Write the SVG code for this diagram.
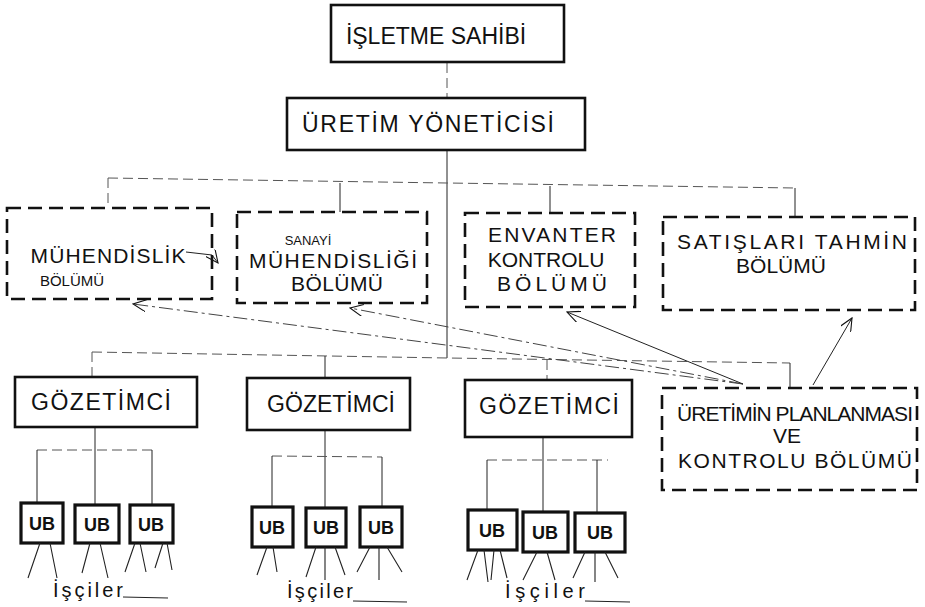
<svg xmlns="http://www.w3.org/2000/svg" width="925" height="607" viewBox="0 0 925 607">
<defs>
<style>
.solid{fill:none;stroke:#111;stroke-width:2.6}
.dash{fill:none;stroke:#111;stroke-width:2.6;stroke-dasharray:14 7}
.ub{fill:none;stroke:#111;stroke-width:3.2}
.c{fill:none;stroke:#222;stroke-width:1}
.cf{fill:none;stroke:#555;stroke-width:1;stroke-dasharray:10 5}
.cd{fill:none;stroke:#444;stroke-width:1;stroke-dasharray:14 4 3 4}
.leg{fill:none;stroke:#222;stroke-width:1.1}
text{font-family:"Liberation Sans","DejaVu Sans",sans-serif;fill:#111;text-anchor:middle}
.t1{font-size:23px}
.t2{font-size:21px}
.t3{font-size:18px;font-weight:bold}
.t4{font-size:20px}
</style>
<marker id="open" markerWidth="14" markerHeight="12" refX="13" refY="6" orient="auto" markerUnits="userSpaceOnUse">
<path d="M0,0 L13,6 L0,12" fill="none" stroke="#111" stroke-width="1.1"/>
</marker>
</defs>
<rect width="925" height="607" fill="#fff"/>

<g id="connectors">
<line class="cf" x1="447" y1="63" x2="447" y2="98"/>
<line class="c" x1="447" y1="151" x2="447" y2="358"/>
<polyline class="cf" points="108,178 447,183 795,188"/>
<line class="cf" x1="108" y1="178" x2="108" y2="207"/>
<line class="c" x1="340" y1="183" x2="340" y2="212"/>
<line class="c" x1="550" y1="186" x2="550" y2="213"/>
<line class="c" x1="795" y1="188" x2="795" y2="217"/>
<polyline class="cf" points="92,352 447,358 790,363"/>
<line class="cf" x1="92" y1="352" x2="92" y2="377"/>
<line class="c" x1="325" y1="356" x2="325" y2="378"/>
<line class="cf" x1="547" y1="360" x2="547" y2="380"/>
<line class="c" x1="790" y1="363" x2="790" y2="388"/>
<path class="c" d="M186,252 L212,255 L218,263" marker-end="url(#open)"/>
<line class="cd" x1="743" y1="384" x2="133" y2="304" marker-end="url(#open)"/>
<line class="cd" x1="743" y1="384" x2="350" y2="308" marker-end="url(#open)"/>
<line class="c" x1="743" y1="384" x2="567" y2="312" marker-end="url(#open)"/>
<line class="c" x1="813" y1="385" x2="852" y2="318" marker-end="url(#open)"/>
<line class="c" x1="95" y1="427" x2="95" y2="505"/>
<line class="cf" x1="37" y1="450" x2="152" y2="450"/>
<line class="c" x1="37" y1="450" x2="37" y2="503"/>
<line class="c" x1="152" y1="450" x2="152" y2="505"/>
<line class="c" x1="325" y1="430" x2="325" y2="508"/>
<line class="cf" x1="272" y1="456" x2="382" y2="457"/>
<line class="c" x1="272" y1="456" x2="272" y2="507"/>
<line class="c" x1="382" y1="457" x2="382" y2="507"/>
<line class="c" x1="543" y1="437" x2="543" y2="512"/>
<line class="cf" x1="487" y1="460" x2="608" y2="460"/>
<line class="c" x1="487" y1="460" x2="487" y2="510"/>
<line class="c" x1="597" y1="460" x2="597" y2="513"/>
</g>

<g id="isletme-sahibi">
<rect class="solid" x="331" y="5" width="233" height="57"/>
<text class="t1" x="436" y="44">İŞLETME SAHİBİ</text>
</g>
<g id="uretim-yoneticisi">
<rect class="solid" x="287" y="98" width="298" height="52"/>
<text class="t1" x="428" y="132" textLength="252">ÜRETİM YÖNETİCİSİ</text>
</g>

<g id="muhendislik">
<rect class="dash" x="7" y="208" width="205" height="91"/>
<text class="t2" x="108" y="263" textLength="155">MÜHENDİSLİK</text>
<text x="72" y="286" font-size="15">BÖLÜMÜ</text>
</g>
<g id="sanayi">
<rect class="dash" x="237" y="212" width="190" height="91"/>
<text x="308" y="245" font-size="13">SANAYİ</text>
<text class="t2" x="333" y="268" textLength="168">MÜHENDİSLİĞİ</text>
<text class="t2" x="337" y="291" textLength="92">BÖLÜMÜ</text>
</g>
<g id="envanter">
<rect class="dash" x="465" y="213" width="170" height="94"/>
<text class="t2" x="552" y="242" textLength="128">ENVANTER</text>
<text class="t2" x="546" y="267">KONTROLU</text>
<text class="t2" x="552" y="291" textLength="110">BÖLÜMÜ</text>
</g>
<g id="satislari">
<rect class="dash" x="663" y="217" width="252" height="93"/>
<text class="t2" x="792" y="249" textLength="230">SATIŞLARI TAHMİN</text>
<text class="t2" x="781" y="273">BÖLÜMÜ</text>
</g>

<g id="gozetimci-1">
<rect class="solid" x="15" y="377" width="182" height="50"/>
<text class="t1" x="101" y="410" textLength="140">GÖZETİMCİ</text>
</g>
<g id="gozetimci-2">
<rect class="solid" x="247" y="378" width="163" height="52"/>
<text class="t1" x="331" y="412">GÖZETİMCİ</text>
</g>
<g id="gozetimci-3">
<rect class="solid" x="465" y="380" width="167" height="57"/>
<text class="t1" x="549" y="414" textLength="140">GÖZETİMCİ</text>
</g>
<g id="uretimin-planlanmasi">
<rect class="dash" x="662" y="388" width="255" height="102"/>
<text class="t2" x="795" y="421" textLength="236">ÜRETİMİN PLANLANMASI</text>
<text class="t2" x="787" y="443">VE</text>
<text class="t2" x="795" y="468" textLength="234">KONTROLU BÖLÜMÜ</text>
</g>

<g id="ub-1-1"><rect class="ub" x="21" y="503" width="42" height="40"/><text class="t3" x="42" y="530">UB</text></g>
<g id="ub-1-2"><rect class="ub" x="75" y="505" width="44" height="38"/><text class="t3" x="97" y="531">UB</text></g>
<g id="ub-1-3"><rect class="ub" x="130" y="505" width="43" height="38"/><text class="t3" x="151" y="531">UB</text></g>
<g id="ub-2-1"><rect class="ub" x="252" y="507" width="41" height="40"/><text class="t3" x="272" y="534">UB</text></g>
<g id="ub-2-2"><rect class="ub" x="306" y="508" width="40" height="39"/><text class="t3" x="326" y="534">UB</text></g>
<g id="ub-2-3"><rect class="ub" x="360" y="507" width="42" height="40"/><text class="t3" x="381" y="534">UB</text></g>
<g id="ub-3-1"><rect class="ub" x="468" y="510" width="49" height="40"/><text class="t3" x="492" y="537">UB</text></g>
<g id="ub-3-2"><rect class="ub" x="523" y="512" width="45" height="40"/><text class="t3" x="545" y="539">UB</text></g>
<g id="ub-3-3"><rect class="ub" x="575" y="513" width="50" height="39"/><text class="t3" x="600" y="539">UB</text></g>

<g id="isciler-1">
<path class="leg" d="M40,543 L28,578 M50,543 L57,578 M90,543 L82,573 M100,543 L108,578 M135,543 L125,572 M140,543 L146,572 M163,543 L155,568 M167,543 L172,570"/>
<text class="t4" x="88" y="597" textLength="70">İşçiler</text>
<line class="c" x1="123" y1="597" x2="168" y2="598"/>
</g>
<g id="isciler-2">
<path class="leg" d="M267,547 L257,575 M273,547 L277,572 M316,547 L306,577 M325,547 L325,580 M335,547 L345,575 M370,547 L357,572 M379,547 L379,580 M387,547 L402,572"/>
<text class="t4" x="320" y="598" textLength="66">İşçiler</text>
<line class="c" x1="353" y1="601" x2="407" y2="602"/>
</g>
<g id="isciler-3">
<path class="leg" d="M478,550 L467,580 M484,550 L488,582 M494,550 L491,580 M500,550 L507,578 M537,552 L523,580 M547,552 L555,580 M585,552 L573,578 M595,552 L595,582 M605,552 L618,578"/>
<text class="t4" x="545" y="598" textLength="80">İşçiler</text>
<line class="c" x1="585" y1="601" x2="630" y2="602"/>
</g>
</svg>
